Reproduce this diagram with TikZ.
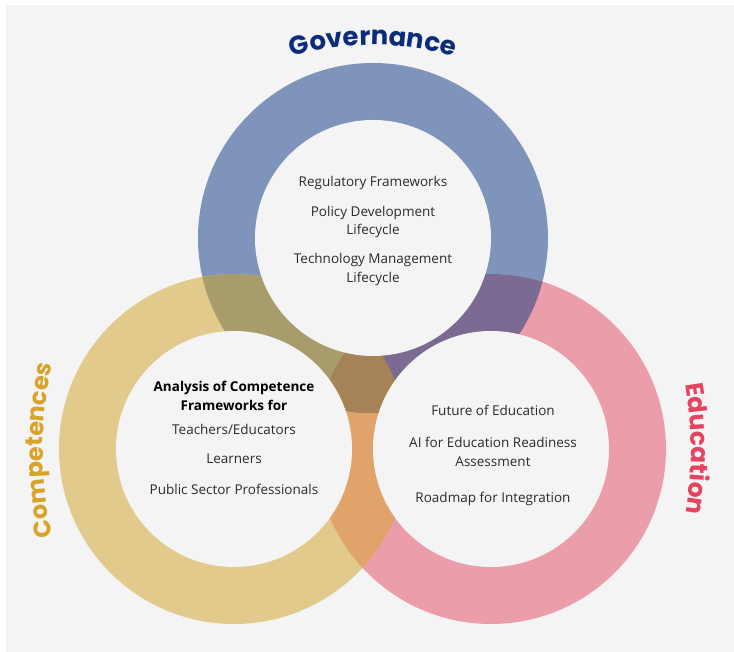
\documentclass[tikz,border=0pt]{standalone}
\usepackage{fontspec}
\setmainfont{Open Sans}
\newfontfamily\titlefont{Poppins}
\usetikzlibrary{positioning,decorations.text}

\definecolor{canvas}{HTML}{F4F4F4}
\definecolor{govblue}{HTML}{7F94BA}
\definecolor{compgold}{HTML}{E1CA8B}
\definecolor{edupink}{HTML}{EB9EA9}
\definecolor{govcomp}{HTML}{A89B6C}
\definecolor{govedu}{HTML}{7B6A92}
\definecolor{compedu}{HTML}{E0A46A}
\definecolor{allthree}{HTML}{A58357}
\definecolor{govtitle}{HTML}{0B2C7A}
\definecolor{comptitle}{HTML}{D8A326}
\definecolor{edutitle}{HTML}{E6435F}
\definecolor{bodytext}{HTML}{2A2A2A}

\begin{document}
\begin{tikzpicture}[x=1pt,y=1pt,
				outer/.style={radius=175pt},
				hole/.style={circle, fill=canvas, minimum size=236pt, inner sep=0pt},
				item/.style={font=\fontsize{13.5}{18.5}\selectfont, text=bodytext, align=center, inner sep=0pt},
				lead/.style={item, font=\fontsize{13.5}{18.5}\selectfont\bfseries, text=black},
				arctitle/.style={decorate, decoration={text along path, text align=center, text={#1}}}
				]
				\useasboundingbox (0,0) rectangle (734,652);
				\fill[white] (0,0) rectangle (734,652);
				\fill[canvas] (6,0) rectangle (734,647);
				
				\coordinate (gov) at (373,414);
				\coordinate (comp) at (234,203);
				\coordinate (edu) at (491,203);
				
				% rings and their overlaps
				\fill[govblue] (gov) circle[outer];
				\fill[compgold] (comp) circle[outer];
				\fill[edupink] (edu) circle[outer];
				\begin{scope}
					\clip (comp) circle[outer];
					\fill[compedu] (edu) circle[outer];
				\end{scope}
				\begin{scope}
					\clip (gov) circle[outer];
					\fill[govcomp] (comp) circle[outer];
					\fill[govedu] (edu) circle[outer];
					\clip (comp) circle[outer];
					\fill[allthree] (edu) circle[outer];
				\end{scope}
				
				\node[hole] (govhole) at (gov) {};
				\node[hole] (comphole) at (comp) {};
				\node[hole] (eduhole) at (edu) {};
				
				% titles
				\path[arctitle={|\titlefont\bfseries\fontsize{26}{26}\selectfont\color{govtitle}|Governance}]
					(373,325) ++(116:282) arc[start angle=116, end angle=64, radius=282];
				\path[arctitle={|\titlefont\bfseries\fontsize{24}{24}\selectfont\color{comptitle}|Competences}]
					(443,202) ++(195:400) arc[start angle=195, end angle=165, radius=400];
				\path[arctitle={|\titlefont\bfseries\fontsize{25}{25}\selectfont\color{edutitle}|Education}]
					(311,203) ++(16:380) arc[start angle=16, end angle=-16, radius=380];
				
				\node[item] (regulatory) at (373,469) {Regulatory Frameworks};
				\node[item] (policy) at (373,430) {Policy Development\\Lifecycle};
				\node[item] (technology) at (373,382.5) {Technology Management\\Lifecycle};
				
				\node[lead] (analysis) at (234,256) {Analysis of Competence\\Frameworks for};
				\node[item] (teachers) at (234,223) {Teachers/Educators};
				\node[item] (learners) at (234,193) {Learners};
				\node[item] (public) at (234,163) {Public Sector Professionals};
				
				\node[item] (future) at (493,242) {Future of Education};
				\node[item] (readiness) at (493,200) {AI for Education Readiness\\Assessment};
				\node[item] (roadmap) at (493,153) {Roadmap for Integration};
			\end{tikzpicture}
\end{document}
